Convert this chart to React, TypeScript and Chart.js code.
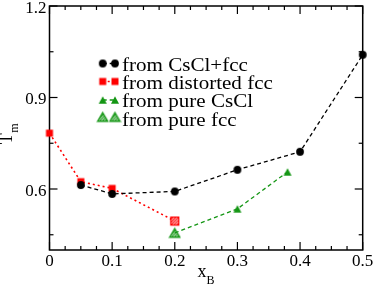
import React, { useEffect, useRef } from "react";
import { Chart, registerables } from "chart.js";
Chart.register(...registerables);

// ---- data ----
const xCsClFcc = [0.05, 0.1, 0.2, 0.3, 0.4, 0.5];
const tCsClFcc = [0.613, 0.584, 0.592, 0.663, 0.722, 1.04];
const xDistFcc = [0, 0.05, 0.1, 0.2];
const tDistFcc = [0.783, 0.624, 0.602, 0.495];
const xPureCsCl = [0.2, 0.3, 0.38];
const tPureCsCl = [0.456, 0.535, 0.656];
const xPureFcc = [0.2];
const tPureFcc = [0.456];

const legendLabels = ["from CsCl+fcc", "from distorted fcc", "from pure CsCl", "from pure fcc"];

const xMajorValues = [0, 0.1, 0.2, 0.3, 0.4, 0.5];
const xTickLabels = ["0", "0.1", "0.2", "0.3", "0.4", "0.5"];
const xMinorValues = [0.025, 0.05, 0.075, 0.125, 0.15, 0.175, 0.225, 0.25, 0.275, 0.325, 0.35, 0.375, 0.425, 0.45, 0.475];
const yMajorValues = [0.6, 0.9, 1.2];
const yTickLabels = ["0.6", "0.9", "1.2"];
const yMinorValues = [0.45, 0.75, 1.05];

const RED = "#ff0000";
const GREEN = "rgb(20,150,20)";
const BLACK = "#000000";
const FONT = '"Liberation Serif", "Times New Roman", serif';

function makeCanvas(size: number) {
  const c = document.createElement("canvas");
  c.width = size;
  c.height = size;
  return c;
}

function markerCircle() {
  const c = makeCanvas(10);
  const g = c.getContext("2d")!;
  g.fillStyle = BLACK;
  g.beginPath();
  g.arc(5, 5, 3.9, 0, Math.PI * 2);
  g.fill();
  return c;
}
function markerSquare() {
  const c = makeCanvas(10);
  const g = c.getContext("2d")!;
  g.fillStyle = RED;
  g.fillRect(1.5, 1.5, 7, 7);
  return c;
}
function triPath(g: CanvasRenderingContext2D, cx: number, cy: number, w: number, h: number) {
  g.beginPath();
  g.moveTo(cx, cy - h / 2);
  g.lineTo(cx + w / 2, cy + h / 2);
  g.lineTo(cx - w / 2, cy + h / 2);
  g.closePath();
}
function markerTriangle() {
  const c = makeCanvas(10);
  const g = c.getContext("2d")!;
  g.fillStyle = GREEN;
  triPath(g, 5, 5, 8, 7.5);
  g.fill();
  return c;
}
function hatch(g: CanvasRenderingContext2D, size: number, color: string) {
  g.strokeStyle = color;
  g.lineWidth = 1.2;
  for (let k = -size; k < size * 2; k += 2.8) {
    g.beginPath();
    g.moveTo(k, size);
    g.lineTo(k + size, 0);
    g.stroke();
  }
}
function markerHatchSquare() {
  const c = makeCanvas(11);
  const g = c.getContext("2d")!;
  g.fillStyle = "#fff";
  g.fillRect(1.5, 1.5, 8, 8);
  g.save();
  g.beginPath();
  g.rect(1.5, 1.5, 8, 8);
  g.clip();
  hatch(g, 11, RED);
  g.restore();
  g.strokeStyle = RED;
  g.lineWidth = 1.2;
  g.strokeRect(1.5, 1.5, 8, 8);
  return c;
}
function markerHatchTriangle() {
  const c = makeCanvas(13);
  const g = c.getContext("2d")!;
  g.fillStyle = "#fff";
  triPath(g, 6.5, 6.5, 10, 8.5);
  g.fill();
  g.save();
  triPath(g, 6.5, 6.5, 10, 8.5);
  g.clip();
  hatch(g, 13, GREEN);
  g.restore();
  g.strokeStyle = GREEN;
  g.lineWidth = 1.4;
  triPath(g, 6.5, 6.5, 10, 8.5);
  g.stroke();
  return c;
}

const toPts = (xs: number[], ys: number[]) => xs.map((x, i) => ({ x, y: ys[i] }));

export default function App() {
  const ref = useRef<HTMLCanvasElement | null>(null);

  useEffect(() => {
    const canvas = ref.current;
    if (!canvas) return;
    const mCircle = markerCircle();
    const mSquare = markerSquare();
    const mTri = markerTriangle();
    const mHSquare = markerHatchSquare();
    const mHTri = markerHatchTriangle();

    const framePlugin = {
      id: "frame",
      beforeDatasetsDraw(chart: any) {
        const { ctx, chartArea: a, scales } = chart;
        const sx = scales.x;
        const sy = scales.y;
        ctx.save();
        ctx.strokeStyle = BLACK;
        ctx.lineWidth = 1.5;
        ctx.strokeRect(a.left, a.top, a.right - a.left, a.bottom - a.top);
        ctx.lineWidth = 1.2;
        const tick = (x1: number, y1: number, x2: number, y2: number) => {
          ctx.beginPath();
          ctx.moveTo(x1, y1);
          ctx.lineTo(x2, y2);
          ctx.stroke();
        };
        xMajorValues.forEach((v) => {
          const px = sx.getPixelForValue(v);
          tick(px, a.bottom, px, a.bottom - 8);
          tick(px, a.top, px, a.top + 8);
        });
        xMinorValues.forEach((v) => {
          const px = sx.getPixelForValue(v);
          tick(px, a.bottom, px, a.bottom - 4);
          tick(px, a.top, px, a.top + 4);
        });
        yMajorValues.forEach((v) => {
          const py = sy.getPixelForValue(v);
          tick(a.left, py, a.left + 8, py);
          tick(a.right, py, a.right - 8, py);
        });
        yMinorValues.forEach((v) => {
          const py = sy.getPixelForValue(v);
          tick(a.left, py, a.left + 4, py);
          tick(a.right, py, a.right - 4, py);
        });

        // tick labels
        ctx.fillStyle = BLACK;
        ctx.font = `17px ${FONT}`;
        ctx.textAlign = "center";
        ctx.textBaseline = "alphabetic";
        xMajorValues.forEach((v, i) => {
          ctx.fillText(xTickLabels[i], sx.getPixelForValue(v), a.bottom + 15.5);
        });
        ctx.textAlign = "right";
        yMajorValues.forEach((v, i) => {
          ctx.fillText(yTickLabels[i], a.left - 3, sy.getPixelForValue(v) + 6.5);
        });

        // axis titles
        ctx.textAlign = "left";
        const cx = (a.left + a.right) / 2;
        ctx.font = `18px ${FONT}`;
        const wx = ctx.measureText("x").width;
        ctx.font = `12px ${FONT}`;
        const wb = ctx.measureText("B").width;
        const startX = cx - (wx + wb) / 2;
        ctx.font = `18px ${FONT}`;
        ctx.fillText("x", startX, 277);
        ctx.font = `12px ${FONT}`;
        ctx.fillText("B", startX + wx, 283.5);

        ctx.save();
        ctx.translate(11.5, (a.top + a.bottom) / 2 + 6);
        ctx.rotate(-Math.PI / 2);
        ctx.font = `18px ${FONT}`;
        const wt = ctx.measureText("T").width;
        ctx.font = `12px ${FONT}`;
        const wm = ctx.measureText("m").width;
        const st = -(wt + wm) / 2;
        ctx.font = `18px ${FONT}`;
        ctx.fillText("T", st, 0);
        ctx.font = `12px ${FONT}`;
        ctx.fillText("m", st + wt + 0.5, 6);
        ctx.restore();
        ctx.restore();
      },
      afterDatasetsDraw(chart: any) {
        const { ctx } = chart;
        ctx.save();
        const mx1 = 102.7;
        const mx2 = 115;
        const rowsM = [63.5, 81.5, 100, 117];
        const rowsT = [70.5, 88.5, 106.5, 125.5];
        const items = [
          { m: mCircle, color: BLACK, dash: [4, 3], width: 1.3, line: true },
          { m: mSquare, color: RED, dash: [2, 3], width: 1.6, line: true },
          { m: mTri, color: GREEN, dash: [4, 3], width: 1.3, line: true },
          { m: mHTri, color: GREEN, dash: [], width: 1, line: false },
        ];
        items.forEach((it, i) => {
          const y = rowsM[i];
          if (it.line) {
            ctx.strokeStyle = it.color;
            ctx.lineWidth = it.width;
            ctx.setLineDash(it.dash);
            ctx.beginPath();
            ctx.moveTo(mx1, y);
            ctx.lineTo(mx2, y);
            ctx.stroke();
            ctx.setLineDash([]);
          }
          ctx.drawImage(it.m, mx1 - it.m.width / 2, y - it.m.height / 2);
          ctx.drawImage(it.m, mx2 - it.m.width / 2, y - it.m.height / 2);
          ctx.save();
          ctx.translate(122, rowsT[i]);
          ctx.scale(1.17, 1);
          ctx.fillStyle = BLACK;
          ctx.font = `18px ${FONT}`;
          ctx.textAlign = "left";
          ctx.textBaseline = "alphabetic";
          ctx.fillText(legendLabels[i], 0, 0);
          ctx.restore();
        });
        ctx.restore();
      },
    };

    const chart = new Chart(canvas, {
      type: "scatter",
      data: {
        datasets: [
          {
            label: legendLabels[0],
            data: toPts(xCsClFcc, tCsClFcc),
            showLine: true,
            borderColor: BLACK,
            backgroundColor: BLACK,
            borderWidth: 1.3,
            borderDash: [4, 3],
            pointStyle: mCircle as any,
            pointRadius: 4,
            clip: false as any,
          },
          {
            label: legendLabels[1],
            data: toPts(xDistFcc, tDistFcc),
            showLine: true,
            borderColor: RED,
            backgroundColor: RED,
            borderWidth: 1.6,
            borderDash: [2, 3],
            pointStyle: ((c: any) => (c.dataIndex === 3 ? mHSquare : mSquare)) as any,
            pointRadius: 4,
            clip: false as any,
          },
          {
            label: legendLabels[2],
            data: toPts(xPureCsCl, tPureCsCl),
            showLine: true,
            borderColor: GREEN,
            backgroundColor: GREEN,
            borderWidth: 1.3,
            borderDash: [4, 3],
            pointStyle: mTri as any,
            pointRadius: ((c: any) => (c.dataIndex === 0 ? 0 : 4)) as any,
            clip: false as any,
          },
          {
            label: legendLabels[3],
            data: toPts(xPureFcc, tPureFcc),
            showLine: false,
            borderColor: GREEN,
            backgroundColor: GREEN,
            pointStyle: mHTri as any,
            pointRadius: 4,
            clip: false as any,
          },
        ],
      },
      options: {
        animation: false,
        responsive: false,
        maintainAspectRatio: false,
        layout: { padding: { left: 49.5, right: 11.3, top: 6, bottom: 36 } },
        scales: {
          x: { type: "linear", min: 0, max: 0.5, display: false },
          y: { type: "linear", min: 0.4, max: 1.2, display: false },
        },
        plugins: { legend: { display: false }, tooltip: { enabled: false } },
        events: [],
      },
      plugins: [framePlugin],
    });
    return () => chart.destroy();
  }, []);

  return (
    <div style={{ position: "absolute", left: 0, top: 0, width: 374, height: 286, background: "#fff" }}>
      <canvas ref={ref} width={374} height={286} style={{ display: "block" }} />
    </div>
  );
}
